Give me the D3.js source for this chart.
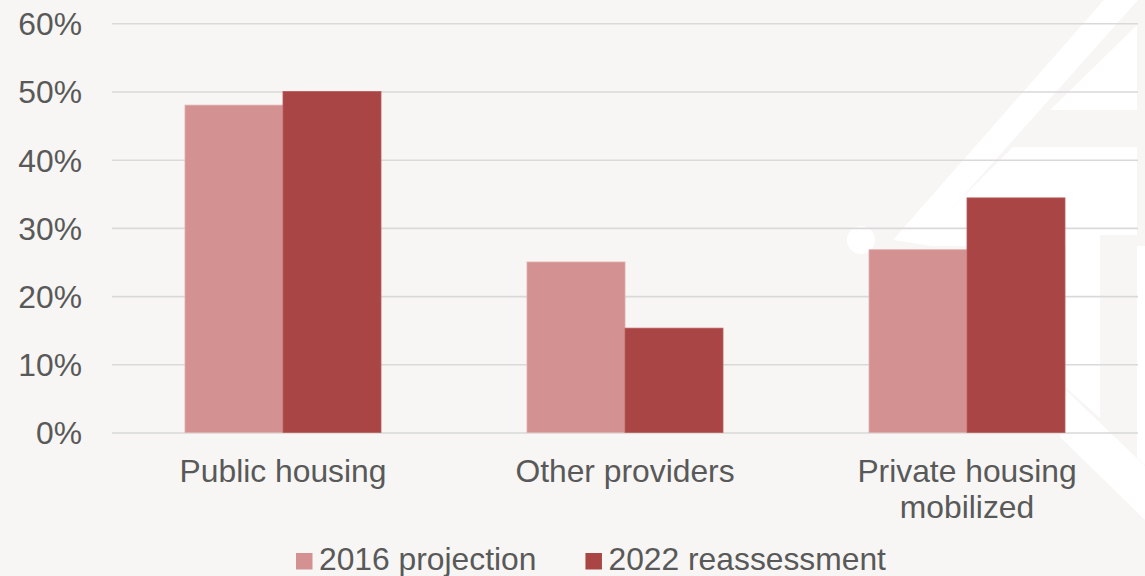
<!DOCTYPE html>
<html>
<head>
<meta charset="utf-8">
<script src="https://cdn.jsdelivr.net/npm/d3@7"></script>
<style>
  html, body { margin: 0; padding: 0; background: #f7f6f4; }
  svg { display: block; }
  text { font-family: "Liberation Sans", Arial, sans-serif; fill: #595959; }
</style>
</head>
<body>
<svg id="chart" width="1145" height="576"></svg>
<script>
// Share of new housing supply by provider, in percent
const categories = ["Public housing", "Other providers", "Private housing mobilized"];
const seriesNames = ["2016 projection", "2022 reassessment"];
const projection2016 = [48, 25, 26.8];
const reassessment2022 = [50, 15.3, 34.4];
const yTicks = [0, 10, 20, 30, 40, 50, 60];

const colors = ["#d39191", "#a94645"];
const strokes = ["#e0acac", "#b85a5a"];
const FONT = 31.8;

const W = 1145, H = 576;
const margin = { left: 112, right: 7, top: 23.3, bottom: 143.5 };
const svg = d3.select("#chart");

// background and light logo watermark
svg.append("rect").attr("width", W).attr("height", H).attr("fill", "#f7f6f4");
const mark = svg.append("g").attr("fill", "#ffffff");
const shapes = [
  [[1104, 0], [1138, 0], [930, 233], [893, 240]],
  [[893, 240], [930, 233], [1100, 233], [1100, 246], [932, 246]],
  [[1137, 25], [1137, 110], [1050, 110]],
  [[1013, 147], [1137, 147], [1137, 235], [925, 235]],
  [[1066, 246], [1100, 246], [1100, 418], [1066, 388]],
  [[1137, 246], [1145, 246], [1145, 465], [1137, 458]],
  [[1066, 390], [1145, 466], [1145, 520], [1060, 437]]
];
shapes.forEach(p => mark.append("path").attr("d", d3.line()(p) + "Z"));
mark.append("circle").attr("cx", 861).attr("cy", 240).attr("r", 14);

const x0 = d3.scaleBand()
  .domain(categories)
  .range([margin.left, W - margin.right])
  .paddingInner(0.427)
  .paddingOuter(0.2135);
const x1 = d3.scaleBand()
  .domain(seriesNames)
  .range([0, x0.bandwidth()]);
const y = d3.scaleLinear()
  .domain([0, 60])
  .range([H - margin.bottom, margin.top]);

// gridlines and y labels
const yAxis = d3.axisLeft(y)
  .tickValues(yTicks)
  .tickSize(-(W - margin.right - margin.left))
  .tickPadding(30)
  .tickFormat(d => d + "%");
const gy = svg.append("g")
  .attr("transform", `translate(${margin.left},0)`)
  .call(yAxis);
gy.select(".domain").remove();
gy.selectAll(".tick line").attr("stroke", "#d9d9d9").attr("stroke-width", 1.6);
gy.selectAll(".tick text")
  .attr("font-size", FONT)
  .attr("fill", "#595959")
  .attr("font-family", "Liberation Sans, Arial, sans-serif")
  .attr("dy", "0.36em");

// bars
const rows = categories.map((c, i) => ({ cat: c, vals: [projection2016[i], reassessment2022[i]] }));
const groups = svg.append("g").selectAll("g")
  .data(rows).join("g")
  .attr("transform", d => `translate(${x0(d.cat)},0)`);
groups.selectAll("rect")
  .data(d => d.vals.map((v, k) => ({ key: seriesNames[k], v, k })))
  .join("rect")
  .attr("x", d => x1(d.key))
  .attr("width", x1.bandwidth())
  .attr("y", d => y(d.v))
  .attr("height", d => y(0) - y(d.v))
  .attr("fill", d => colors[d.k])
  .attr("stroke", d => strokes[d.k])
  .attr("stroke-width", 0.8);

// category labels, wrapped to two lines where long
const wrapped = { "Private housing mobilized": ["Private housing", "mobilized"] };
const xl = svg.append("g");
categories.forEach(c => {
  const lines = wrapped[c] || [c];
  const t = xl.append("text")
    .attr("x", x0(c) + x0.bandwidth() / 2)
    .attr("y", 481.5)
    .attr("text-anchor", "middle")
    .attr("font-size", FONT);
  lines.forEach((ln, i) => {
    t.append("tspan")
      .attr("x", x0(c) + x0.bandwidth() / 2)
      .attr("dy", i === 0 ? 0 : 36.8)
      .text(ln);
  });
});

// legend
const legend = svg.append("g").attr("transform", "translate(296,0)");
let lx = 0;
seriesNames.forEach((s, k) => {
  legend.append("rect")
    .attr("x", lx).attr("y", 553)
    .attr("width", 16.5).attr("height", 16.5)
    .attr("fill", colors[k]);
  const t = legend.append("text")
    .attr("x", lx + 23).attr("y", 570)
    .attr("font-size", FONT)
    .text(s);
  lx += 23 + t.node().getComputedTextLength() + 49;
});
</script>
</body>
</html>
